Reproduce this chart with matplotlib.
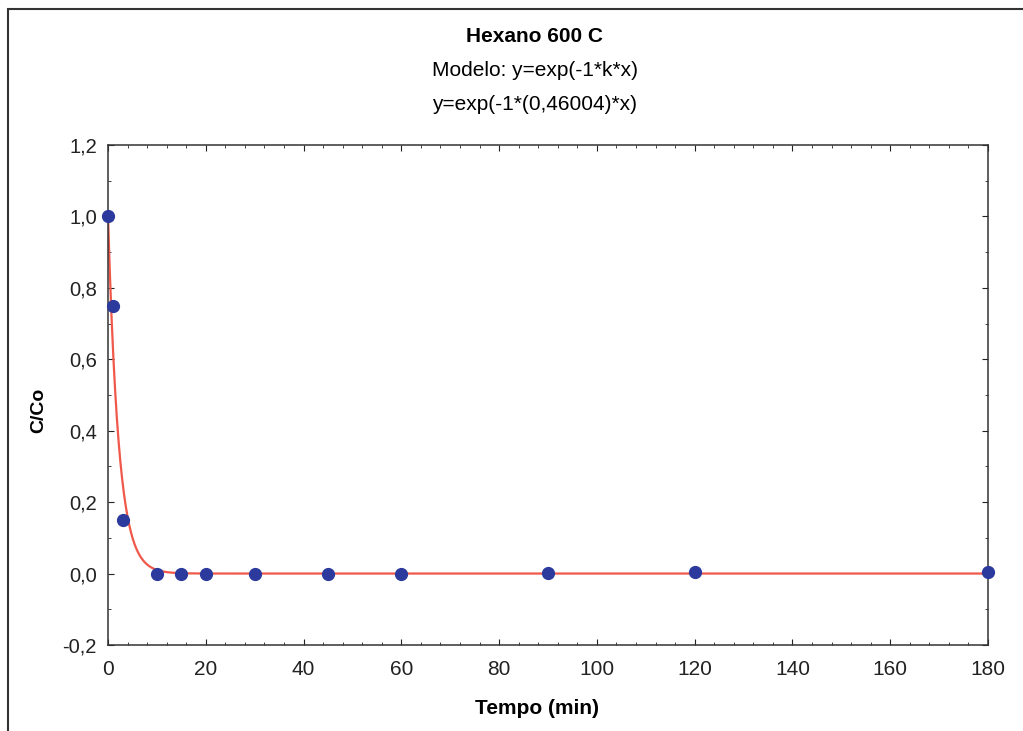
import numpy as np
import matplotlib
matplotlib.use("Agg")
from matplotlib import pyplot as plt
from matplotlib.ticker import MultipleLocator, FuncFormatter
from matplotlib.patches import Rectangle

plt.rcParams['font.family'] = ['Liberation Sans', 'DejaVu Sans']

# Measured points (tempo in min, C/Co)
tempo = [0, 1, 3, 10, 15, 20, 30, 45, 60, 90, 120, 180]
c_co = [1.0, 0.75, 0.15, 0.0, 0.0, 0.0, -0.001, 0.0, 0.0, 0.001, 0.003, 0.004]

# Fitted rate constant from the chart's subtitle
k_fit = 0.46004

x_ticks = [0, 20, 40, 60, 80, 100, 120, 140, 160, 180]
y_ticks = [-0.2, 0.0, 0.2, 0.4, 0.6, 0.8, 1.0, 1.2]

fig = plt.figure(figsize=(10.23, 7.31), dpi=100)
ax = fig.add_axes([0.1056, 0.1177, 0.8602, 0.6839])

# model curve y = exp(-k*x)
xs = np.linspace(0, 180, 2000)
ax.plot(xs, np.exp(-k_fit * xs), color='#f0584a', lw=1.6, zorder=2)
ax.plot(tempo, c_co, 'o', color='#2b3a9c', ms=8.5, zorder=3, clip_on=False)

ax.set_xlim(0, 180)
ax.set_ylim(-0.2, 1.2)
ax.set_xticks(x_ticks)
ax.set_yticks(y_ticks)
ax.xaxis.set_minor_locator(MultipleLocator(4))
ax.yaxis.set_minor_locator(MultipleLocator(0.1))
ax.yaxis.set_major_formatter(FuncFormatter(lambda v, p: f"{v:.1f}".replace('.', ',')))
ax.tick_params(which='both', direction='in', top=True, right=True, colors='#222222')
ax.tick_params(which='major', length=4, labelsize=15)
ax.tick_params(axis='x', which='major', pad=11)
ax.tick_params(axis='y', which='major', pad=8, labelsize=14.5)
ax.tick_params(which='minor', length=2.5)
for s in ax.spines.values():
    s.set_color('#333333')
    s.set_linewidth(1.1)

ax.set_xlabel('Tempo (min)', fontsize=15, fontweight='bold')
ax.xaxis.set_label_coords(0.488, -0.108)
ax.set_ylabel('C/Co', fontsize=14, fontweight='bold')
ax.yaxis.set_label_coords(-0.069, 0.47)

fig.text(535 / 1023, 1 - 36 / 731, 'Hexano 600 C', ha='center', va='center',
         fontsize=15, fontweight='bold')
fig.text(535 / 1023, 1 - 71 / 731, 'Modelo: y=exp(-1*k*x)', ha='center', va='center',
         fontsize=15)
fig.text(535 / 1023, 1 - 104 / 731, 'y=exp(-1*(0,46004)*x)', ha='center', va='center',
         fontsize=15)

# outer frame of the scanned figure
fig.patches.append(Rectangle((8 / 1023, -0.05), 1.1, 1 - 9 / 731 + 0.05,
                             transform=fig.transFigure, fill=False,
                             edgecolor='#333333', lw=1.5))

fig.savefig('out.png', dpi=100)
